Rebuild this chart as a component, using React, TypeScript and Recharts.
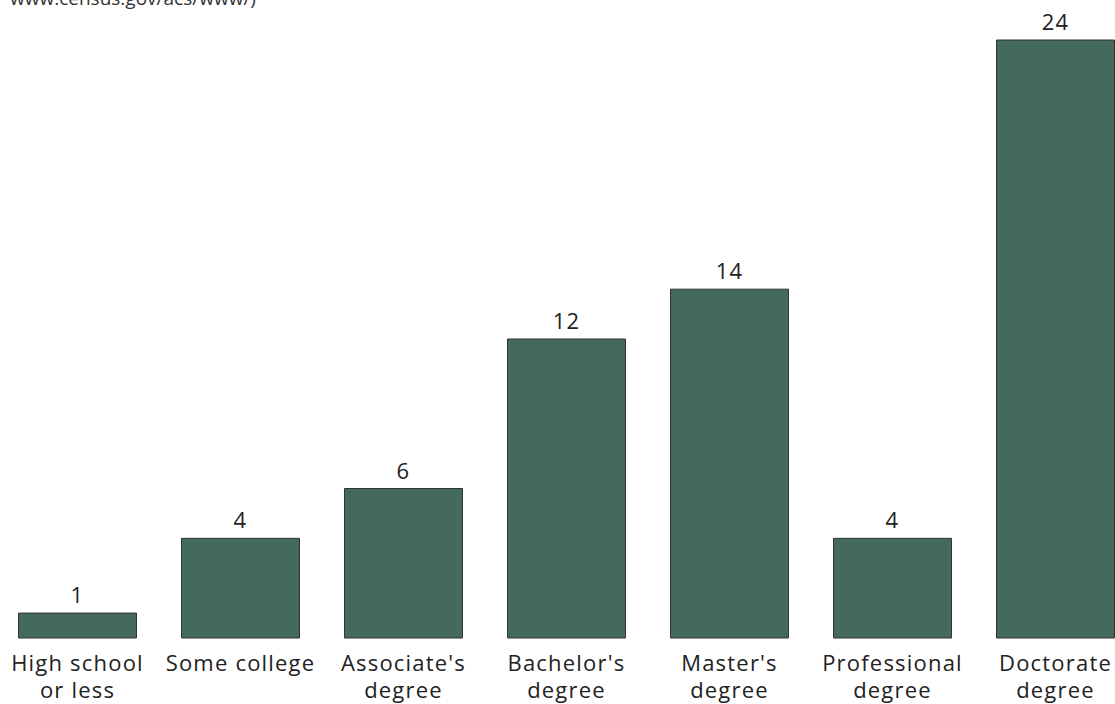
import React from "react";
import { BarChart, Bar, XAxis, YAxis, LabelList } from "recharts";

const categories = [
  "High school\nor less",
  "Some college",
  "Associate's\ndegree",
  "Bachelor's\ndegree",
  "Master's\ndegree",
  "Professional\ndegree",
  "Doctorate\ndegree",
];
const values = [1, 4, 6, 12, 14, 4, 24];

const data = categories.map((name, i) => ({ name, value: values[i] }));

const FONT = "'Open Sans', 'DejaVu Sans', sans-serif";

function CategoryTick(props: any) {
  const { x, y, payload } = props;
  const lines = String(payload.value).split("\n");
  return (
    <text x={x} y={y} textAnchor="middle" fill="#222" fontSize={22} letterSpacing={1.2} fontFamily={FONT}>
      {lines.map((line, i) => (
        <tspan key={i} x={x} dy={i === 0 ? 25 : 27}>
          {line}
        </tspan>
      ))}
    </text>
  );
}

function ValueLabel(props: any) {
  const { x, y, width, value } = props;
  return (
    <text x={x + width / 2} y={y - 10} textAnchor="middle" fill="#222" fontSize={22} letterSpacing={1.2} fontFamily={FONT}>
      {value}
    </text>
  );
}

export default function App() {
  return (
    <div style={{ position: "absolute", left: 0, top: 0, width: 1115, height: 704, overflow: "hidden", background: "#fff" }}>
      <div style={{ position: "absolute", left: 10, top: -15, fontFamily: FONT, fontSize: 19, color: "#333", whiteSpace: "nowrap" }}>
        www.census.gov/acs/www/)
      </div>
      <div style={{ position: "absolute", left: -4.5, top: 0 }}>
        <BarChart
          width={1141}
          height={704}
          data={data}
          margin={{ top: 40, right: 0, bottom: 0, left: 0 }}
          barCategoryGap={22.5}
        >
          <XAxis dataKey="name" axisLine={false} tickLine={false} interval={0} height={66} tick={<CategoryTick />} />
          <YAxis hide domain={[0, 24]} />
          <Bar dataKey="value" fill="#446a5b" stroke="#333" strokeWidth={1} isAnimationActive={false}>
            <LabelList dataKey="value" content={<ValueLabel />} />
          </Bar>
        </BarChart>
      </div>
    </div>
  );
}
